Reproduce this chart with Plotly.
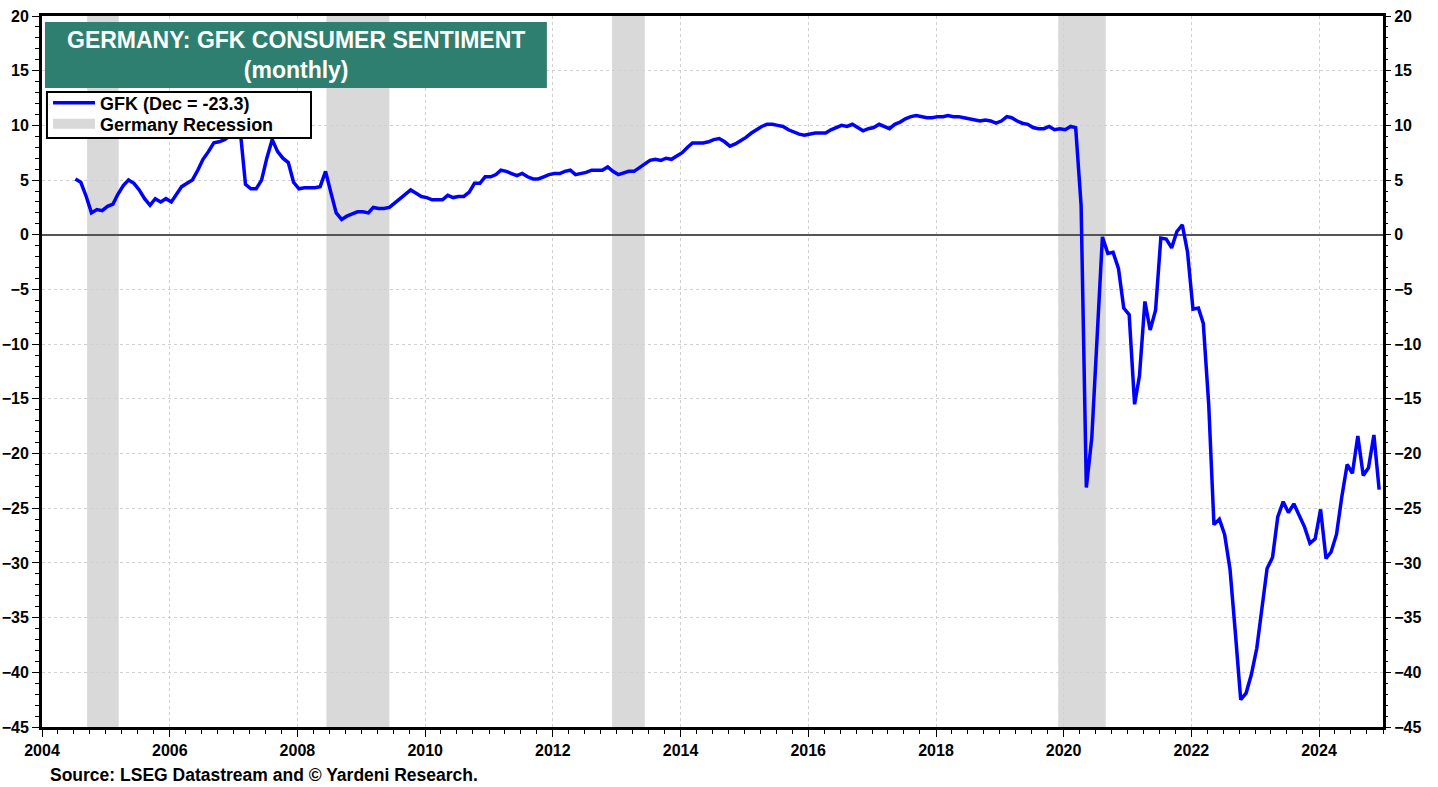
import pandas as pd
import plotly.graph_objects as go

# ---- data (monthly, Jul 2004 - Dec 2024) ----
v2004 = [5.1, 4.8, 3.5, 2.0, 2.3, 2.2]
v2005 = [2.6, 2.8, 3.7, 4.5, 5.0, 4.7, 4.1, 3.3, 2.7, 3.3, 3.0, 3.3]
v2006 = [3.0, 3.8, 4.4, 4.7, 5.0, 5.9, 6.9, 7.6, 8.4, 8.5, 8.7, 9.0]
v2007 = [9.1, 9.2, 4.6, 4.2, 4.2, 5.0, 7.0, 8.7, 7.6, 7.0, 6.6, 4.8]
v2008 = [4.2, 4.3, 4.3, 4.3, 4.4, 5.8, 3.9, 2.0, 1.4, 1.7, 1.9, 2.1]
v2009 = [2.1, 2.0, 2.5, 2.4, 2.4, 2.5, 2.9, 3.3, 3.7, 4.1, 3.8, 3.5]
v2010 = [3.4, 3.2, 3.2, 3.2, 3.6, 3.4, 3.5, 3.5, 3.9, 4.7, 4.7, 5.3]
v2011 = [5.3, 5.5, 5.9, 5.8, 5.6, 5.4, 5.6, 5.3, 5.1, 5.1, 5.3, 5.5]
v2012 = [5.6, 5.6, 5.8, 5.9, 5.5, 5.6, 5.7, 5.9, 5.9, 5.9, 6.2, 5.8]
v2013 = [5.5, 5.7, 5.8, 5.8, 6.1, 6.5, 6.8, 6.9, 6.8, 7.0, 6.9, 7.2]
v2014 = [7.5, 8.0, 8.4, 8.4, 8.4, 8.5, 8.7, 8.8, 8.5, 8.1, 8.3, 8.6]
v2015 = [8.9, 9.3, 9.6, 9.9, 10.1, 10.1, 10.0, 9.9, 9.6, 9.4, 9.2, 9.1]
v2016 = [9.2, 9.3, 9.3, 9.3, 9.6, 9.8, 10.0, 9.9, 10.1, 9.8, 9.5, 9.7]
v2017 = [9.8, 10.1, 9.9, 9.7, 10.1, 10.3, 10.6, 10.8, 10.9, 10.8, 10.7, 10.7]
v2018 = [10.8, 10.8, 10.9, 10.8, 10.8, 10.7, 10.6, 10.5, 10.4, 10.5, 10.4, 10.2]
v2019 = [10.4, 10.8, 10.7, 10.4, 10.2, 10.1, 9.8, 9.7, 9.7, 9.9, 9.6, 9.7]
v2020 = [9.6, 9.9, 9.8, 2.7, -23.1, -18.6, -9.4, -0.2, -1.7, -1.6, -3.1, -6.7]
v2021 = [-7.3, -15.5, -12.9, -6.1, -8.7, -6.9, -0.3, -0.4, -1.2, 0.3, 0.9, -1.6]
v2022 = [-6.8, -6.7, -8.1, -15.5, -26.5, -26.0, -27.4, -30.6, -36.5, -42.5, -41.9, -40.2]
v2023 = [-37.8, -33.9, -30.5, -29.5, -25.8, -24.4, -25.4, -24.6, -25.6, -26.7, -28.2, -27.8]
v2024 = [-25.1, -29.6, -29.0, -27.4, -24.0, -21.0, -21.8, -18.4, -22.0, -21.3, -18.3, -23.3]

gfk_values = (v2004 + v2005 + v2006 + v2007 + v2008 + v2009 + v2010 + v2011 + v2012
              + v2013 + v2014 + v2015 + v2016 + v2017 + v2018 + v2019 + v2020
              + v2021 + v2022 + v2023 + v2024)
dates = pd.date_range("2004-07-01", periods=len(gfk_values), freq="MS") + pd.Timedelta(days=9)

recession_starts = ["2004-09-15", "2008-06-15", "2012-12-05", "2019-12-01"]
recession_ends = ["2005-03-15", "2009-06-10", "2013-06-10", "2020-08-29"]

y_ticks = list(range(-45, 21, 5))
x_tick_years = list(range(2004, 2025, 2))

FONT = "Liberation Sans, Arial, sans-serif"

fig = go.Figure()

fig.add_trace(go.Scatter(x=dates, y=gfk_values, mode="lines",
                         line=dict(color="#0000FF", width=3.5),
                         name="GFK (Dec = -23.3)", legend="legend"))
# legend-only recession entry
fig.add_trace(go.Scatter(x=[None], y=[None], mode="lines",
                         line=dict(color="#D9D9D9", width=14),
                         name="Germany Recession", showlegend=True, legend="legend2"))
# dummy for right axis
fig.add_trace(go.Scatter(x=[dates[0]], y=[None], yaxis="y2", showlegend=False,
                         mode="lines", hoverinfo="skip"))

for s, e in zip(recession_starts, recession_ends):
    fig.add_shape(type="rect", xref="x", yref="paper", x0=s, x1=e, y0=0, y1=1,
                  fillcolor="#D9D9D9", line=dict(width=0), layer="below")

# title box
fig.add_shape(type="rect", xref="paper", yref="paper",
              x0=0.0022, x1=0.3765, y0=0.8987, y1=0.9916,
              fillcolor="#2F7F70", line=dict(width=0), layer="above")
fig.add_annotation(xref="paper", yref="paper", x=(0.0022 + 0.3765) / 2, y=(0.8987 + 0.9916) / 2,
                   text="GERMANY: GFK CONSUMER SENTIMENT<br>(monthly)", showarrow=False,
                   font=dict(family=FONT, size=23, color="white", weight="bold"),
                   xanchor="center", yanchor="middle", align="center")

# legend box
fig.add_shape(type="rect", xref="paper", yref="paper",
              x0=0.0037, x1=0.2006, y0=0.8284, y1=0.8931,
              fillcolor="white", line=dict(color="black", width=2), layer="above")

fig.add_annotation(xref="paper", yref="paper", x=0.0045, y=-0.0675,
                   text="Source: LSEG Datastream and © Yardeni Research.", showarrow=False,
                   font=dict(family=FONT, size=17.5, color="black", weight="bold"),
                   xanchor="left", yanchor="middle")

tickfont = dict(family=FONT, size=16, color="black", weight="bold")
legfont = dict(family=FONT, size=18, color="black", weight="bold")

fig.update_layout(
    width=1438, height=787,
    margin=dict(l=42, r=55, t=16, b=60),
    paper_bgcolor="white", plot_bgcolor="white",
    showlegend=True,
    legend=dict(x=0.0045, y=0.8776, xanchor="left", yanchor="middle",
                bgcolor="rgba(0,0,0,0)", borderwidth=0, font=legfont, itemwidth=42),
    legend2=dict(x=0.0045, y=0.8481, xanchor="left", yanchor="middle",
                 bgcolor="rgba(0,0,0,0)", borderwidth=0, font=legfont, itemwidth=42),
    xaxis=dict(type="date", range=["2004-01-01", "2025-01-01"], automargin=False,
               tickvals=[f"{y}-01-01" for y in x_tick_years],
               ticktext=[str(y) for y in x_tick_years],
               showgrid=True, gridcolor="#D0D0D0", griddash="dot", gridwidth=1,
               showline=True, linecolor="black", linewidth=3, mirror=True,
               ticks="outside", ticklen=7, tickwidth=1, tickcolor="black",
               minor=dict(dtick="M3", tick0="2004-01-01", ticks="outside", ticklen=4,
                          tickcolor="black", showgrid=False),
               tickfont=tickfont, zeroline=False),
    yaxis=dict(range=[-45, 20], tickvals=y_ticks, automargin=False,
               showgrid=True, gridcolor="#D0D0D0", griddash="dot", gridwidth=1,
               showline=True, linecolor="black", linewidth=3, mirror=True,
               ticks="outside", ticklen=7, tickwidth=1, tickcolor="black",
               minor=dict(dtick=1, ticks="outside", ticklen=4, tickcolor="black", showgrid=False),
               zeroline=True, zerolinecolor="#555555", zerolinewidth=1.5,
               tickfont=tickfont),
    yaxis2=dict(range=[-45, 20], tickvals=y_ticks, overlaying="y", side="right",
                automargin=False, showgrid=False, showline=False, zeroline=False,
                ticks="outside", ticklen=7, tickwidth=1, tickcolor="black",
                minor=dict(dtick=1, ticks="outside", ticklen=4, tickcolor="black", showgrid=False),
                tickfont=tickfont),
)

fig.write_html("out.html", config={"displayModeBar": False},
               post_script="document.body.style.margin='0';document.body.style.padding='0';")
